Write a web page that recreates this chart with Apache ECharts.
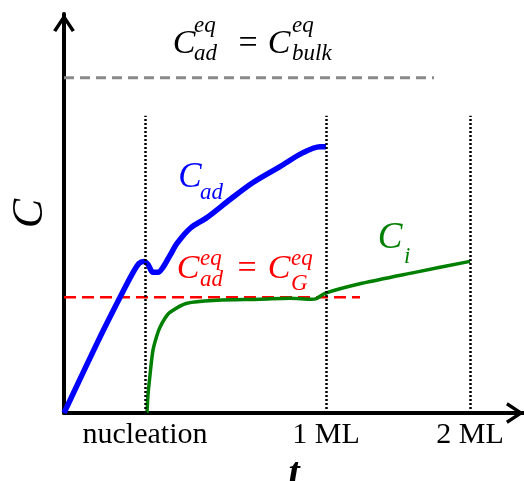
<!DOCTYPE html>
<html>
<head>
<meta charset="utf-8">
<script src="https://cdn.jsdelivr.net/npm/echarts@6/dist/echarts.min.js"></script>
<style>
  html, body { margin: 0; padding: 0; background: #fff; }
  #chart { width: 524px; height: 481px; }
</style>
</head>
<body>
<div id="chart"></div>
<script>
// schematic units: t along x (0..46), C along y (0..40)
const tickPositions = [8.1, 26.2, 40.6];
const tickLabels = ['nucleation', '1 ML', '2 ML'];

// adatom concentration
const cAd = [
  [0, 0], [3.5, 7.4], [5.5, 11.4], [6.8, 13.9], [7.5, 15.0], [8.0, 15.2],
  [8.4, 14.9], [8.9, 14.1], [9.4, 14.1], [9.9, 14.6], [10.6, 15.8],
  [11.3, 17.0], [12.6, 18.5], [14.3, 19.6], [16.6, 21.4], [18.9, 23.1],
  [21.6, 24.7], [23.9, 26.1], [25.6, 26.7], [26.2, 26.7]
];

// island-edge concentration
const cI = [
  [8.3, 0], [8.4, 1.8], [8.6, 3.8], [8.9, 6.3], [9.3, 7.8], [9.6, 8.6],
  [10.1, 9.5], [10.6, 10.1], [12.3, 11.0], [15.3, 11.3], [19.6, 11.4],
  [22.6, 11.5], [24.8, 11.4], [25.3, 11.5], [26.1, 12.0], [29.8, 13.0],
  [35.1, 14.1], [40.6, 15.2]
];

// reference levels
const bulkLevel = [[0, 33.6], [37.0, 33.6]];
const gLevel = [[0, 11.6], [29.6, 11.6]];
const markerTop = 29.8;

const serif = '"Liberation Serif", "DejaVu Serif", serif';
const chevron = 'path://M0,15 L10,0 L20,15 L17.2,16.6 L10,5.6 L2.8,16.6 Z';

function txt(x, y, text, size, color, italic, align) {
  return {
    type: 'text', x: x, y: y, silent: true,
    style: {
      text: text, fill: color,
      font: (italic ? 'italic ' : '') + size + 'px ' + serif,
      align: align || 'center', verticalAlign: 'middle'
    }
  };
}

const chart = echarts.init(document.getElementById('chart'));
chart.setOption({
  animation: false,
  grid: { left: 64, top: 14, width: 460, height: 399, outerBoundsMode: 'none', containLabel: false },
  xAxis: {
    type: 'value', min: 0, max: 46,
    name: 't', nameLocation: 'middle', nameGap: 38,
    nameTextStyle: { fontFamily: serif, fontStyle: 'italic', fontWeight: 'bold', fontSize: 40, color: '#000' },
    axisLine: {
      lineStyle: { color: '#000', width: 4 },
      symbol: ['none', chevron], symbolSize: [24, 18], symbolOffset: [0, -9]
    },
    axisTick: { show: false },
    splitLine: { show: false },
    axisLabel: {
      customValues: tickPositions,
      formatter: function (v) { return tickLabels[tickPositions.indexOf(v)]; },
      fontFamily: serif, fontSize: 30, color: '#000', margin: 7
    }
  },
  yAxis: {
    type: 'value', min: 0, max: 40,
    name: 'C', nameLocation: 'middle', nameGap: 12, nameRotate: 90,
    nameTextStyle: { fontFamily: serif, fontStyle: 'italic', fontSize: 44, color: '#000' },
    axisLine: {
      lineStyle: { color: '#000', width: 4 },
      symbol: ['none', chevron], symbolSize: [24, 18], symbolOffset: [0, -9]
    },
    axisTick: { show: false },
    axisLabel: { show: false },
    splitLine: { show: false }
  },
  series: [
    {
      type: 'line', data: bulkLevel, showSymbol: false, silent: true,
      lineStyle: { color: '#8a8a8a', width: 3, type: [10, 6] }
    },
    {
      type: 'line', data: gLevel, showSymbol: false, silent: true,
      lineStyle: { color: '#ff0000', width: 2.5, type: [12, 6] },
      markLine: {
        silent: true, symbol: 'none', label: { show: false },
        lineStyle: { color: '#000', width: 2.5, type: [2, 2] },
        data: tickPositions.map(function (t) { return [{ coord: [t, 0] }, { coord: [t, markerTop] }]; })
      }
    },
    {
      type: 'line', data: cI, showSymbol: false, silent: true, smooth: 0.3,
      lineStyle: { color: '#008000', width: 3.5 }
    },
    {
      type: 'line', data: cAd, showSymbol: false, silent: true, smooth: 0.3,
      lineStyle: { color: '#0000ff', width: 5.5 }
    }
  ],
  graphic: [
    // C_ad^eq = C_bulk^eq
    txt(184, 44, 'C', 34, '#000', true),
    txt(194, 26, 'eq', 23, '#000', true, 'left'),
    txt(194, 54, 'ad', 23, '#000', true, 'left'),
    txt(248, 44, '=', 34, '#000', false),
    txt(279, 44, 'C', 34, '#000', true),
    txt(292, 26, 'eq', 23, '#000', true, 'left'),
    txt(292, 54, 'bulk', 23, '#000', true, 'left'),
    // C_ad
    txt(190, 178, 'C', 35, '#0000ff', true),
    txt(200, 193, 'ad', 23, '#0000ff', true, 'left'),
    // C_ad^eq = C_G^eq
    txt(188, 269, 'C', 34, '#ff0000', true),
    txt(200, 259, 'eq', 23, '#ff0000', true, 'left'),
    txt(200, 280, 'ad', 23, '#ff0000', true, 'left'),
    txt(247, 269, '=', 34, '#ff0000', false),
    txt(279, 269, 'C', 34, '#ff0000', true),
    txt(291, 259, 'eq', 23, '#ff0000', true, 'left'),
    txt(291, 284, 'G', 23, '#ff0000', true, 'left'),
    // C_i
    txt(390, 238, 'C', 37, '#008000', true),
    txt(404, 257, 'i', 23, '#008000', true, 'left')
  ]
});
</script>
</body>
</html>
